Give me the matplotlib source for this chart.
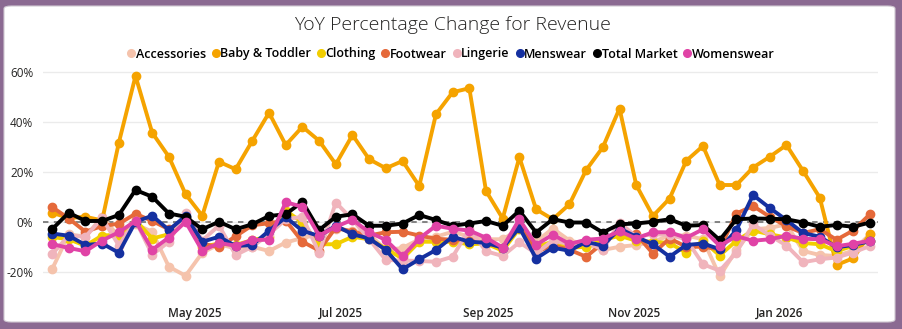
import numpy as np
import pandas as pd
import matplotlib
matplotlib.use('Agg')
import matplotlib.pyplot as plt
import matplotlib.dates as mdates
from matplotlib.lines import Line2D
from matplotlib.patches import FancyBboxPatch

plt.rcParams['font.family'] = ['Open Sans', 'DejaVu Sans']

# weekly YoY % change, one value per week starting 2 Mar 2025
weeks = pd.date_range('2025-03-02', periods=50, freq='7D')

accessories = [-19, -5, -6, 2, -6, -1, -4, -18, -21.6, -12.4,
               -9, -10.7, -10, -11.7, -8.3, -6.5, -5, -3, -3.5, -5,
               -11.3, -10.5, -7, -6, -4, -6, -7, -7, -3, -8,
               -2.7, -7.5, -9, -11.3, -10, -9.3, -8, -5.5, -5.5, -7,
               -21.8, -11.3, -3, -2.5, -1, -11.7, -13.3, -13.7, -11.5, -5]
baby_toddler = [3.6, 1.5, 2.0, 0.5, 31.6, 58.3, 35.6, 26, 11, 2.4,
                24, 21, 32.4, 43.6, 30.7, 38, 32.4, 23, 34.7, 25,
                21.4, 24.3, 14.3, 43, 51.8, 53.4, 12.3, 1.3, 25.8, 5,
                1, 7, 20.7, 29.8, 45.3, 14.7, 2.3, 9.3, 24.4, 30.3,
                14.7, 14.7, 21.7, 26, 30.7, 20.3, 9.6, -17.3, -14.6, -4.9]
clothing = [-6.1, -7, -9.6, -5.5, -5.2, 0.6, -6.7, -5, 1, -10,
            -8.7, -9.3, -7.3, -6, 4.5, -0.3, -9, -9, -6, -7,
            -10.7, -14.8, -8, -8, -8, -9, -8.7, -11.6, -2.7, -10,
            -8, -10.4, -10, -7.3, -5.6, -7.6, -8, -8.5, -12.4, -7.6,
            -13.5, -7.6, -3.5, -5, -6.3, -8.5, -9, -11.8, -9.6, -7.6]
footwear = [5.9, 1.3, -4, -1.7, -0.8, 3.2, 0.3, -3, 1, -8.7,
            -10.2, -5.8, -1.4, -0.6, 0.5, -8, -11.5, -2.3, -4, -5.5,
            -4.2, -4, -5.5, -6.8, -7.2, -7.5, -8.5, -10.4, -1.5, -12,
            -9.5, -11.2, -14, -8.5, -3.5, -5, -12.7, -6.7, -10, -10,
            -11, 3.3, 6.3, 2, -1.8, -4.5, -3, -7.2, -3.5, 3]
lingerie = [-13, -5.5, -6, 1.5, -9.5, 0.5, -13.2, -8, 3.5, -7.5,
            -1.5, -13.3, -10, -5, 1, 2, -12.5, 7.7, 0.8, -7,
            -15.3, -15.5, -15.7, -16, -14, -3, -11.8, -13.7, -8.2, -12.7,
            -7.5, -9, -8, -11.3, -0.3, -6, -5, -5.3, -7, -17,
            -19.6, -12.3, -1, -5.5, -9.5, -16.2, -15, -14.3, -12.3, -9.7]
menswear = [-4.7, -5.6, -9.3, -8.7, -12.4, 0, 2.4, -3.3, 2.3, -8,
            -6, -9.7, -9.3, -3.6, 1.8, -3.6, -5.7, -1.6, -5, -6.7,
            -11.3, -19, -15, -11.3, -6, -8, -8.4, -10.4, -2.3, -14.7,
            -10.4, -11.6, -8, -9.6, -2.7, -6, -9, -14, -9.3, -8.7,
            -11, -3.3, 10.7, 5.5, 0.7, -4.5, -6, -10.2, -9.3, -7.8]
total_market = [-3, 3.6, 0.3, 0.3, 2.7, 12.7, 10, 3.3, 2, -3,
                0, -3, -1, 2.3, 3, 8, -3.3, 2, 3, -1.6,
                -1.6, -0.7, 2.7, 0.7, -1.6, -0.7, 0.3, -1.6, 4.4, -4.3,
                1, -0.3, -0.3, -4.3, -1, -0.7, 0, 1, -1.6, -1.3,
                -7.3, 1, 1.3, 1.2, 1, -0.3, -2, -1.3, -2, -0.3]
womenswear = [-8.9, -10.5, -11.8, -7.5, -4.2, 0.3, -11.2, -6.3, 0, -11.6,
              -8.5, -9.6, -7.3, -7.2, 7.8, 6, -5.5, -2, 0.8, -4.2,
              -7.3, -13.8, -6.7, -1.6, -2.8, -3.5, -6.4, -10.3, 1, -9.3,
              -5.1, -8.9, -7.2, -6.7, -3.8, -6.7, -4.2, -4.2, -6.4, -3,
              -9.6, -5.8, -7.6, -7, -5.6, -6.8, -7, -9.8, -8.8, -7.6]

series = [
    ('Accessories', accessories, '#F5C3AC'),
    ('Baby & Toddler', baby_toddler, '#F5A300'),
    ('Clothing', clothing, '#F2CE00'),
    ('Footwear', footwear, '#E5693A'),
    ('Lingerie', lingerie, '#F0B4BC'),
    ('Menswear', menswear, '#1530A0'),
    ('Total Market', total_market, '#000000'),
    ('Womenswear', womenswear, '#E043A6'),
]

yticks = [-20, 0, 20, 40, 60]
month_ticks = pd.to_datetime(['2025-05-01', '2025-07-01', '2025-09-01',
                              '2025-11-01', '2026-01-01'])

fig = plt.figure(figsize=(9.03, 3.29), dpi=100, facecolor='#8b6a92')

# white card behind the chart
card = FancyBboxPatch((4 / 903, 1 - 322 / 329), 891 / 903, 316 / 329,
                      boxstyle='round,pad=0,rounding_size=0.008',
                      transform=fig.transFigure, facecolor='white',
                      edgecolor='#d0c8d2', linewidth=0.8, zorder=-5)
fig.patches.append(card)

ax = fig.add_axes([43 / 903, 1 - 290 / 329, 835 / 903, 225 / 329])
ax.set_zorder(2)
ax.set_facecolor('none')

for name, values, color in series:
    ax.plot(weeks, values, color=color, lw=2.8, marker='o', markersize=6,
            label=name, solid_joinstyle='round', zorder=3)

ax.axhline(0, color='#7a7a7a', lw=1.3, ls=(0, (3, 3)), zorder=2)

ax.set_xlim(weeks[0] - pd.Timedelta(days=3.8), weeks[-1] + pd.Timedelta(days=3.4))
ax.set_ylim(-27.3, 62.7)
ax.set_yticks(yticks)
ax.set_yticklabels([f'{t}%' for t in yticks])
ax.set_xticks(month_ticks)
ax.xaxis.set_major_formatter(mdates.DateFormatter('%b %Y'))
ax.grid(axis='y', color='#ebebeb', lw=1, zorder=0)
ax.tick_params(length=0, labelsize=8.5, colors='#252423')
ax.tick_params(axis='x', pad=12)
ax.tick_params(axis='y', pad=7)
for lbl in ax.get_xticklabels():
    lbl.set_fontweight('semibold')
for spine in ax.spines.values():
    spine.set_visible(False)

handles = [Line2D([], [], ls='none', marker='o', markersize=5.5, color=c)
           for _, _, c in series]
fig.legend(handles, [n for n, _, _ in series], loc='center',
           bbox_to_anchor=(451 / 903, 1 - 54 / 329), ncol=len(series),
           frameon=False, handlelength=0.55, handletextpad=0.1,
           columnspacing=0.5, prop={'weight': 'semibold', 'size': 9})

fig.text(452 / 903, 1 - 25 / 329, 'YoY Percentage Change for Revenue',
         ha='center', va='center', fontsize=14, color='#252423', fontweight='light')

fig.savefig('out.png', dpi=100, facecolor=fig.get_facecolor())
